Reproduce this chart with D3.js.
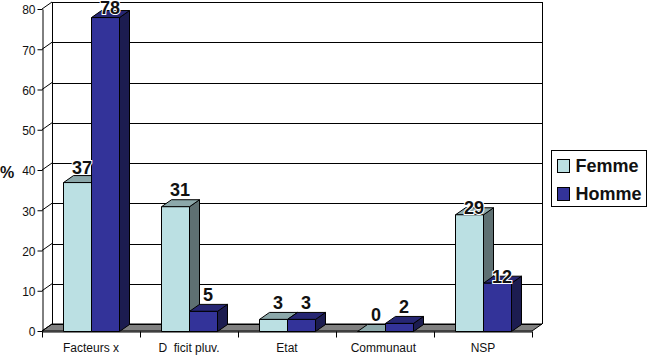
<!DOCTYPE html>
<html>
<head>
<meta charset="utf-8">
<script src="https://cdn.jsdelivr.net/npm/d3@7"></script>
<style>
    html, body { margin: 0; padding: 0; background: #fff; }
    svg { display: block; font-family: "Liberation Sans", Arial, sans-serif; }
    text { white-space: pre; }
</style>
</head>
<body>
<script>
const categories = ["Facteurs x", "D  ficit pluv.", "Etat", "Communaut ", "NSP"];
const femme = [37, 31, 3, 0, 29];
const homme = [78, 5, 3, 2, 12];
const yTicks = [0, 10, 20, 30, 40, 50, 60, 70, 80];

const seriesNames = ["Femme", "Homme"];
const seriesValues = [femme, homme];
const colors = {
    Femme: { front: "#bbe0e3", top: "#8ca8aa", side: "#5e7072" },
    Homme: { front: "#333399", top: "#262673", side: "#1c1c50" }
};

// labels that sit on top of something in the original get pushed around a bit
const labelDy = { "Femme-0": 2, "Homme-0": 7, "Femme-4": 10, "Homme-4": 10 };
const labelHalo = ["Femme-0", "Homme-0", "Femme-4", "Homme-4"];

const width = 648, height = 356;
const plot = { left: 42, right: 532, bottom: 331, top: 9 };
const depthX = 10, depthY = -7; // 3d offset of the back wall
const barPad = 21;

const x = d3.scaleBand().domain(categories).range([plot.left, plot.right]);
const barX = d3.scaleBand().domain(seriesNames).range([barPad, x.bandwidth() - barPad]);
const y = d3.scaleLinear().domain([0, 80]).range([plot.bottom, plot.top]);

const svg = d3.select("body").append("svg").attr("width", width).attr("height", height);

const poly = (pts) => pts.map(p => p.join(",")).join(" ");

// floor
svg.append("polygon")
    .attr("points", poly([
        [plot.left, plot.bottom], [plot.right, plot.bottom],
        [plot.right + depthX, plot.bottom + depthY], [plot.left + depthX, plot.bottom + depthY]
    ]))
    .attr("fill", "#808080")
    .attr("stroke", "#000")
    .attr("stroke-width", 1);

// back wall + gridlines
const grid = svg.append("g").attr("stroke", "#000").attr("fill", "none");
grid.selectAll("line.h")
    .data(yTicks)
    .join("line")
    .attr("class", "h")
    .attr("x1", plot.left + depthX)
    .attr("x2", plot.right + depthX)
    .attr("y1", d => Math.round(y(d) + depthY) + 0.5)
    .attr("y2", d => Math.round(y(d) + depthY) + 0.5);
grid.selectAll("line.d")
    .data(yTicks)
    .join("line")
    .attr("class", "d")
    .attr("x1", plot.left)
    .attr("x2", plot.left + depthX)
    .attr("y1", d => y(d))
    .attr("y2", d => y(d) + depthY);
grid.append("line")
    .attr("x1", plot.left + depthX + 0.5).attr("x2", plot.left + depthX + 0.5)
    .attr("y1", y(80) + depthY).attr("y2", y(0) + depthY);
grid.append("line")
    .attr("x1", plot.right + depthX + 0.5).attr("x2", plot.right + depthX + 0.5)
    .attr("y1", y(80) + depthY).attr("y2", y(0) + depthY);

// y axis
const yAxis = svg.append("g")
    .attr("transform", "translate(" + (plot.left + 0.5) + ",0)")
    .call(d3.axisLeft(y).tickValues(yTicks).tickSize(5).tickPadding(2).tickSizeOuter(0));
yAxis.selectAll("path, line").attr("stroke", "#000");
yAxis.selectAll("text").attr("fill", "#111").attr("dy", "0.4em").style("font-size", "12px").style("font-family", "inherit");

// x axis, ticks go on the band edges so the labels are done with tickSize 0
const xAxis = svg.append("g")
    .attr("transform", "translate(0," + (plot.bottom + 0.5) + ")")
    .call(d3.axisBottom(x).tickSize(0).tickPadding(12).tickSizeOuter(0));
xAxis.select("path").attr("stroke", "#000");
xAxis.selectAll("text").attr("fill", "#111").style("font-size", "12px").style("font-family", "inherit");
xAxis.selectAll("line.edge")
    .data(d3.range(categories.length + 1))
    .join("line")
    .attr("class", "edge")
    .attr("stroke", "#000")
    .attr("x1", i => plot.left + i * x.step() + 0.5)
    .attr("x2", i => plot.left + i * x.step() + 0.5)
    .attr("y1", 0)
    .attr("y2", 6);

// bars
const bars = [];
categories.forEach((c, i) => {
    seriesNames.forEach((s, j) => {
        bars.push({ cat: c, i: i, series: s, value: seriesValues[j][i] });
    });
});

const barG = svg.selectAll("g.bar")
    .data(bars)
    .join("g")
    .attr("class", "bar")
    .attr("transform", "translate(0.5,0.5)")
    .attr("stroke", "#000")
    .attr("stroke-width", 1)
    .attr("stroke-linejoin", "round");

const x0 = d => x(d.cat) + barX(d.series);
const x1 = d => x0(d) + barX.bandwidth();

barG.append("polygon")
    .attr("fill", d => colors[d.series].side)
    .attr("points", d => poly([
        [x1(d), y(d.value)], [x1(d) + depthX, y(d.value) + depthY],
        [x1(d) + depthX, y(0) + depthY], [x1(d), y(0)]
    ]));
barG.append("polygon")
    .attr("fill", d => colors[d.series].top)
    .attr("points", d => poly([
        [x0(d), y(d.value)], [x1(d), y(d.value)],
        [x1(d) + depthX, y(d.value) + depthY], [x0(d) + depthX, y(d.value) + depthY]
    ]));
barG.append("rect")
    .attr("fill", d => colors[d.series].front)
    .attr("x", d => x0(d))
    .attr("y", d => y(d.value))
    .attr("width", barX.bandwidth())
    .attr("height", d => y(0) - y(d.value));

// value labels
svg.append("g")
    .selectAll("text")
    .data(bars)
    .join("text")
    .attr("x", d => x0(d) + barX.bandwidth() / 2 + 5)
    .attr("y", d => y(d.value) - 10 + (labelDy[d.series + "-" + d.i] || 0))
    .attr("text-anchor", "middle")
    .attr("font-size", "18px")
    .attr("font-weight", "bold")
    .attr("fill", "#111")
    .attr("paint-order", "stroke")
    .attr("stroke", d => labelHalo.includes(d.series + "-" + d.i) ? "#fff" : "none")
    .attr("stroke-width", 2)
    .text(d => d.value);

// axis unit
svg.append("text")
    .attr("x", 0)
    .attr("y", 178)
    .attr("font-size", "16px")
    .attr("font-weight", "bold")
    .attr("fill", "#111")
    .text("%");

// legend
const legend = svg.append("g").attr("transform", "translate(551.5,150.5)");
legend.append("rect")
    .attr("width", 95)
    .attr("height", 56)
    .attr("fill", "#fff")
    .attr("stroke", "#000");
const legendItem = legend.selectAll("g")
    .data(seriesNames)
    .join("g")
    .attr("transform", (d, i) => "translate(6," + (9 + i * 28) + ")");
legendItem.append("rect")
    .attr("width", 12)
    .attr("height", 13)
    .attr("fill", d => colors[d].front)
    .attr("stroke", "#000");
legendItem.append("text")
    .attr("x", 18)
    .attr("y", 12)
    .attr("font-size", "18px")
    .attr("font-weight", "bold")
    .attr("fill", "#111")
    .text(d => d);
</script>
</body>
</html>
